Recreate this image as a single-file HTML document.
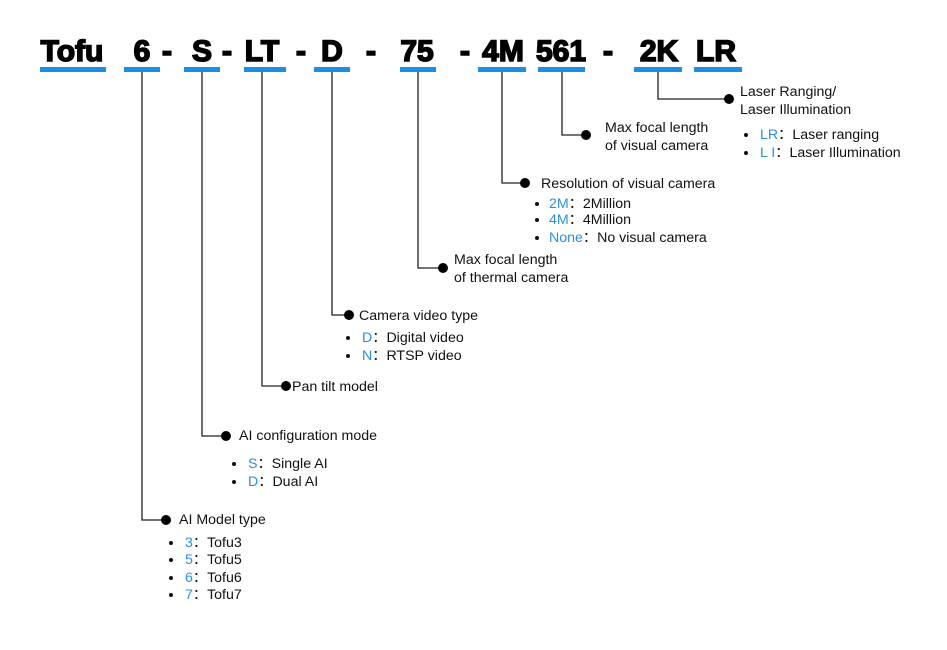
<!DOCTYPE html>
<html><head><meta charset="utf-8"><style>
html,body{margin:0;padding:0;background:#fff;}
svg{display:block}
.t{font-family:"Liberation Sans",Arial,sans-serif;font-size:30px;font-weight:bold;fill:#000;stroke:#000;stroke-width:1.6;text-anchor:middle}
.l{font-family:"Liberation Sans",Arial,sans-serif;font-size:14.2px;fill:#111}
.b{fill:#2b8fe3}
</style></head><body>
<svg width="947" height="650" viewBox="0 0 947 650" xmlns="http://www.w3.org/2000/svg">
<g class="t">
<text x="72" y="61">Tofu</text>
<text x="142" y="61">6</text>
<text x="167" y="61">-</text>
<text x="202" y="61">S</text>
<text x="227" y="61">-</text>
<text x="262" y="61">LT</text>
<text x="301" y="61">-</text>
<text x="332" y="61">D</text>
<text x="371" y="61">-</text>
<text x="417" y="61">75</text>
<text x="465" y="61">-</text>
<text x="503" y="61">4M</text>
<text x="561" y="61">561</text>
<text x="608" y="61">-</text>
<text x="659" y="61">2K</text>
<text x="716" y="61">LR</text>
</g>
<g fill="#1a8fe3">
<rect x="40" y="67" width="66" height="5"/>
<rect x="124" y="67" width="36" height="5"/>
<rect x="184" y="67" width="36" height="5"/>
<rect x="244" y="67" width="42" height="5"/>
<rect x="314" y="67" width="36" height="5"/>
<rect x="400" y="67" width="36" height="5"/>
<rect x="478" y="67" width="48" height="5"/>
<rect x="538" y="67" width="47" height="5"/>
<rect x="634" y="67" width="48" height="5"/>
<rect x="694" y="67" width="48" height="5"/>
</g>
<g fill="none" stroke="#222" stroke-width="1.3">
<path d="M142 72V520H166"/>
<path d="M202 72V436H226"/>
<path d="M262 72V386H286"/>
<path d="M332 72V315H349"/>
<path d="M418 72V268H443"/>
<path d="M502 72V183H525"/>
<path d="M562 72V135H586"/>
<path d="M658 72V99H729"/>
</g>
<g fill="#000">
<circle cx="166" cy="520" r="5"/>
<circle cx="226" cy="436" r="5"/>
<circle cx="286" cy="386" r="5"/>
<circle cx="349" cy="315" r="5"/>
<circle cx="443" cy="268" r="5"/>
<circle cx="525" cy="183" r="5"/>
<circle cx="586" cy="135" r="5"/>
<circle cx="729" cy="99" r="5"/>
</g>
<g class="l">
<text x="740" y="96">Laser Ranging/</text>
<text x="740" y="114">Laser Illumination</text>
<text x="760" y="139"><tspan class="b">LR</tspan>：Laser ranging</text>
<text x="760" y="157"><tspan class="b">L I</tspan>：Laser Illumination</text>
<text x="605" y="132">Max focal length</text>
<text x="605" y="150">of visual camera</text>
<text x="541" y="188">Resolution of visual camera</text>
<text x="549" y="208"><tspan class="b">2M</tspan>：2Million</text>
<text x="549" y="224"><tspan class="b">4M</tspan>：4Million</text>
<text x="549" y="242"><tspan class="b">None</tspan>：No visual camera</text>
<text x="454" y="264">Max focal length</text>
<text x="454" y="282">of thermal camera</text>
<text x="359" y="320">Camera video type</text>
<text x="362" y="342"><tspan class="b">D</tspan>：Digital video</text>
<text x="362" y="360"><tspan class="b">N</tspan>：RTSP video</text>
<text x="292" y="391">Pan tilt model</text>
<text x="239" y="440">AI configuration mode</text>
<text x="248" y="468"><tspan class="b">S</tspan>：Single AI</text>
<text x="248" y="486"><tspan class="b">D</tspan>：Dual AI</text>
<text x="179" y="524">AI Model type</text>
<text x="185" y="547"><tspan class="b">3</tspan>：Tofu3</text>
<text x="185" y="564"><tspan class="b">5</tspan>：Tofu5</text>
<text x="185" y="582"><tspan class="b">6</tspan>：Tofu6</text>
<text x="185" y="599"><tspan class="b">7</tspan>：Tofu7</text>
</g>
<g fill="#111">
<circle cx="746" cy="135" r="2"/><circle cx="746" cy="153" r="2"/>
<circle cx="537" cy="204" r="2"/><circle cx="537" cy="220" r="2"/><circle cx="537" cy="238" r="2"/>
<circle cx="348" cy="338" r="2"/><circle cx="348" cy="356" r="2"/>
<circle cx="234" cy="464" r="2"/><circle cx="234" cy="482" r="2"/>
<circle cx="171" cy="543" r="2"/><circle cx="171" cy="560" r="2"/><circle cx="171" cy="578" r="2"/><circle cx="171" cy="595" r="2"/>
</g>
</svg>
</body></html>
